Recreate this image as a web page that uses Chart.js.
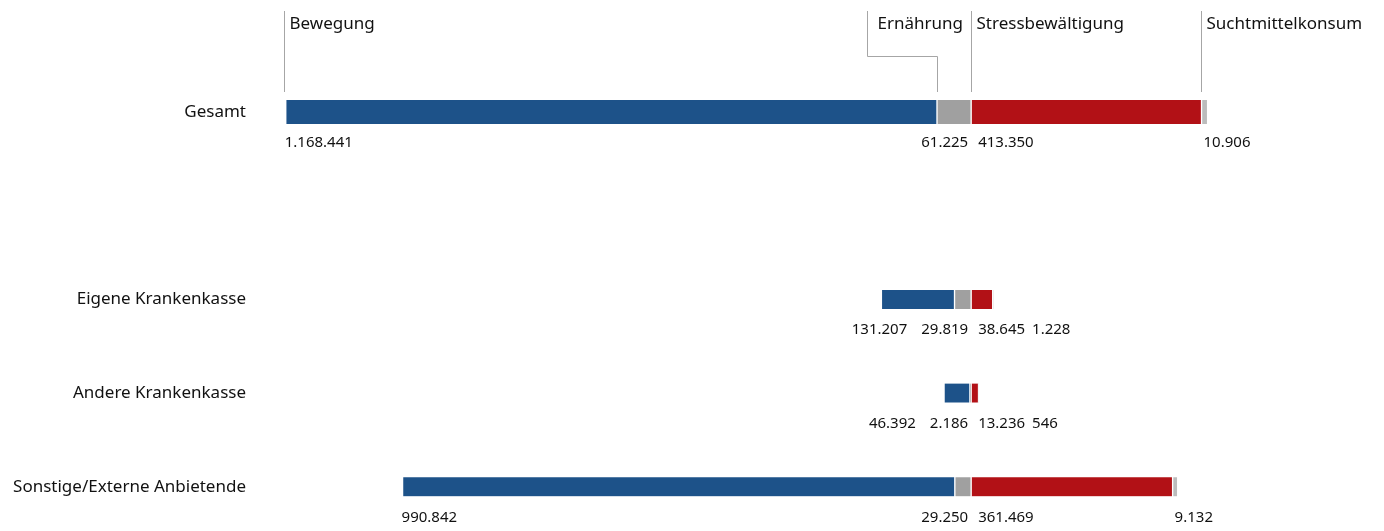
<!DOCTYPE html>
<html>
<head>
<meta charset="utf-8">
<script src="https://cdn.jsdelivr.net/npm/chart.js@4/dist/chart.umd.min.js"></script>
<style>
  html, body { margin: 0; padding: 0; background: #fff; }
  canvas { display: block; }
</style>
</head>
<body>
<canvas id="c" width="1384" height="531"></canvas>
<script>
// ---- data ----
const categories = ['Gesamt', '', 'Eigene Krankenkasse', 'Andere Krankenkasse', 'Sonstige/Externe Anbietende'];
const headers = ['Bewegung', 'Ernährung', 'Stressbewältigung', 'Suchtmittelkonsum'];
const bewegung   = [1168441, null, 131207, 46392, 990842];
const ernaehrung = [61225,   null, 29819,  2186,  29250];
const stress     = [413350,  null, 38645,  13236, 361469];
const sucht      = [10906,   null, 1228,   546,   9132];

const FONT = '"Noto Sans", "Open Sans", sans-serif';
const TEXT = '#111111';

// series: key, values, sign (left side negative), colour, header label
const series = [
  { key: 'ern',  values: ernaehrung, sign: -1, color: '#a0a0a0', label: headers[1] },
  { key: 'bew',  values: bewegung,   sign: -1, color: '#1d5289', label: headers[0] },
  { key: 'str',  values: stress,     sign:  1, color: '#b21116', label: headers[2] },
  { key: 'such', values: sucht,      sign:  1, color: '#bcbcbc', label: headers[3] }
];

const datasets = [];
series.forEach(s => {
  [true, false].forEach(isTotal => {
    datasets.push({
      label: s.label + (isTotal ? ' (Gesamt)' : ''),
      seriesKey: s.key,
      data: s.values.map((v, i) => (v == null || (i === 0) !== isTotal) ? null : s.sign * v),
      backgroundColor: s.color,
      borderColor: '#ffffff',
      borderWidth: { left: 1, right: 1, top: 0, bottom: 0 },
      borderSkipped: false,
      barThickness: isTotal ? 24 : 19,
      stack: 'all',
      clip: false
    });
  });
});

const fmt = v => String(Math.abs(v)).replace(/\B(?=(\d{3})+(?!\d))/g, '.');

function barEl(chart, key, i) {
  const dsets = chart.data.datasets;
  for (let d = 0; d < dsets.length; d++) {
    if (dsets[d].seriesKey === key && dsets[d].data[i] != null) {
      return chart.getDatasetMeta(d).data[i];
    }
  }
  return null;
}
const leftOf = el => Math.min(el.x, el.base);

const labelPlugin = {
  id: 'valueLabels',
  afterDatasetsDraw(chart) {
    const ctx = chart.ctx;
    const zero = chart.scales.x.getPixelForValue(0);
    ctx.save();
    ctx.font = '15px ' + FONT;
    ctx.fillStyle = TEXT;
    ctx.textBaseline = 'alphabetic';
    ctx.textAlign = 'left';
    categories.forEach((c, i) => {
      const b = barEl(chart, 'bew', i);
      if (!b) return;
      const u = barEl(chart, 'such', i);
      const y = b.y + 35;
      const eTxt = fmt(ernaehrung[i]);
      const eX = zero - 3 - ctx.measureText(eTxt).width;
      const bTxt = fmt(bewegung[i]);
      const bW = ctx.measureText(bTxt).width;
      const bX = Math.min(leftOf(b) - 1, eX - 14 - bW);
      const sTxt = fmt(stress[i]);
      const sX = zero + 7;
      const sW = ctx.measureText(sTxt).width;
      const uTxt = fmt(sucht[i]);
      const uX = Math.max(leftOf(u) + 2, sX + sW + 7);
      ctx.fillText(bTxt, bX, y);
      ctx.fillText(eTxt, eX, y);
      ctx.fillText(sTxt, sX, y);
      ctx.fillText(uTxt, uX, y);
    });
    ctx.restore();
  }
};

const headerPlugin = {
  id: 'headers',
  afterDatasetsDraw(chart) {
    const ctx = chart.ctx;
    const zero = chart.scales.x.getPixelForValue(0);
    const b = barEl(chart, 'bew', 0), e = barEl(chart, 'ern', 0), u = barEl(chart, 'such', 0);
    const top = 11;
    const bottom = b.y - b.height / 2 - 8;
    const elbowY = 56.5;
    const px = x => Math.round(x) + 0.5;
    ctx.save();
    ctx.strokeStyle = '#a6a6a6';
    ctx.lineWidth = 1;
    ctx.font = '17px ' + FONT;
    ctx.fillStyle = TEXT;
    ctx.textAlign = 'left';
    ctx.textBaseline = 'alphabetic';

    const items = [
      { text: headers[0], x: px(leftOf(b) - 2), elbow: 0 },
      { text: headers[1], x: px(leftOf(e)), elbow: 70 },
      { text: headers[2], x: px(zero), elbow: 0 },
      { text: headers[3], x: px(leftOf(u) - 1), elbow: 0 }
    ];
    items.forEach(it => {
      ctx.beginPath();
      if (it.elbow) {
        ctx.moveTo(it.x, bottom);
        ctx.lineTo(it.x, elbowY);
        ctx.lineTo(it.x - it.elbow, elbowY);
        ctx.lineTo(it.x - it.elbow, top);
      } else {
        ctx.moveTo(it.x, top);
        ctx.lineTo(it.x, bottom);
      }
      ctx.stroke();
      const tx = it.elbow ? it.x - it.elbow + 10 : it.x + 5;
      ctx.fillText(it.text, tx, 29);
    });
    ctx.restore();
  }
};

new Chart(document.getElementById('c'), {
  type: 'bar',
  data: { labels: categories, datasets },
  options: {
    indexAxis: 'y',
    responsive: false,
    animation: false,
    events: [],
    layout: { padding: { left: 0, right: 84, top: 112, bottom: 42 } },
    plugins: { legend: { display: false }, tooltip: { enabled: false } },
    scales: {
      x: {
        type: 'linear',
        display: false,
        stacked: true,
        min: -1240000,
        max: 590000
      },
      y: {
        type: 'category',
        stacked: true,
        offset: false,
        grid: { display: false, drawTicks: false },
        border: { display: false },
        ticks: {
          padding: 34,
          color: TEXT,
          font: { family: FONT, size: 17 }
        },
        afterFit(scale) { scale.width = 280; }
      }
    }
  },
  plugins: [labelPlugin, headerPlugin]
});
</script>
</body>
</html>
